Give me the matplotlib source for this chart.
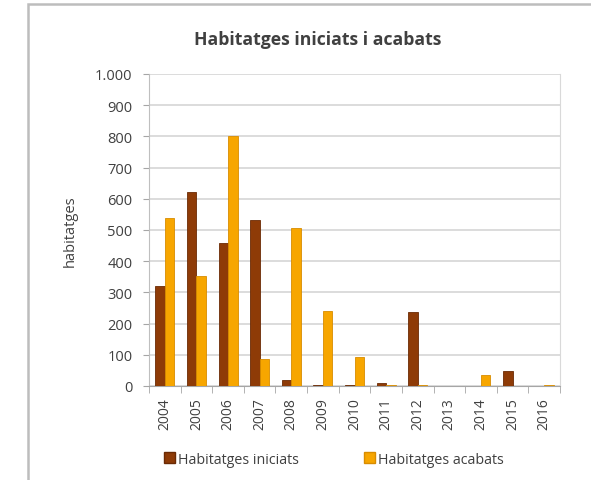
import numpy as np
import matplotlib.pyplot as plt
from matplotlib.patches import Rectangle, Patch
from matplotlib.ticker import FuncFormatter

anys = ["2004", "2005", "2006", "2007", "2008", "2009", "2010",
        "2011", "2012", "2013", "2014", "2015", "2016"]
iniciats = [320, 623, 458, 533, 19, 2, 2, 10, 237, 1, 1, 48, 1]
acabats = [540, 353, 800, 87, 505, 240, 93, 3, 2, 1, 35, 1, 2]

color_ini = "#8E3B07"
color_aca = "#F7A600"

plt.rcParams['font.family'] = ['Open Sans', 'DejaVu Sans']

W, H = 591, 481
fig = plt.figure(figsize=(W / 100, H / 100), dpi=100)

# marc del grafic (com una captura d'Excel)
fig.patches.append(Rectangle((28 / W, -0.05), 1.0, 1 - 5 / H + 0.05,
                             transform=fig.transFigure, facecolor="white",
                             edgecolor="#BDBDBD", linewidth=1.8, zorder=-10))

ax = fig.add_axes([149 / W, 1 - 387 / H, (560 - 149) / W, (387 - 75) / H])
ax.set_facecolor("none")
ax.set_zorder(5)

x = np.arange(len(anys))
w = 0.3
ax.bar(x - w / 2, iniciats, width=w, color=color_ini, edgecolor="#6A2A04",
       linewidth=0.6, zorder=3)
ax.bar(x + w / 2, acabats, width=w, color=color_aca, edgecolor="#D88C00",
       linewidth=0.6, zorder=3)

ax.set_xlim(-0.5, len(anys) - 0.5)
ax.set_ylim(0, 1000)
ax.set_yticks(np.arange(0, 1001, 100))
ax.yaxis.set_major_formatter(FuncFormatter(lambda v, p: f"{int(v):,}".replace(",", ".")))
ax.grid(axis="y", color="#D9D9D9", linewidth=1.3, zorder=0)
ax.set_axisbelow(True)

ax.set_xticks(x)
ax.set_xticklabels(anys, rotation=90, fontsize=10, color="#404040")
ax.set_xticks(np.arange(-0.5, len(anys), 1), minor=True)
ax.tick_params(axis="x", which="major", length=0, pad=8)
ax.tick_params(axis="x", which="minor", length=5, color="#A6A6A6")
ax.tick_params(axis="y", length=4, color="#A6A6A6", labelsize=10.5,
               labelcolor="#404040", pad=8)

ax.spines["top"].set_visible(False)
ax.spines["right"].set_color("#D9D9D9")
ax.spines["left"].set_color("#BFBFBF")
ax.spines["bottom"].set_color("#A6A6A6")

ax.set_ylabel("habitatges", fontsize=10.5, color="#404040", va="center")
ax.yaxis.set_label_coords((70 - 149) / (560 - 149), 0.5)

fig.text(318 / W, 1 - 40 / H, "Habitatges iniciats i acabats",
         ha="center", va="center", fontsize=12.7, fontweight="bold", color="#404040")

handles = [Patch(facecolor=color_ini, edgecolor="#6A2A04"),
           Patch(facecolor=color_aca, edgecolor="#D88C00")]
fig.legend(handles, ["Habitatges iniciats", "Habitatges acabats"],
           loc="center", bbox_to_anchor=(334 / W, 1 - 460 / H), ncol=2,
           frameon=False, fontsize=10.3, handlelength=0.75, handleheight=0.75,
           handletextpad=0.2, columnspacing=4.6, labelcolor="#404040")

fig.savefig("out.png", dpi=100)
